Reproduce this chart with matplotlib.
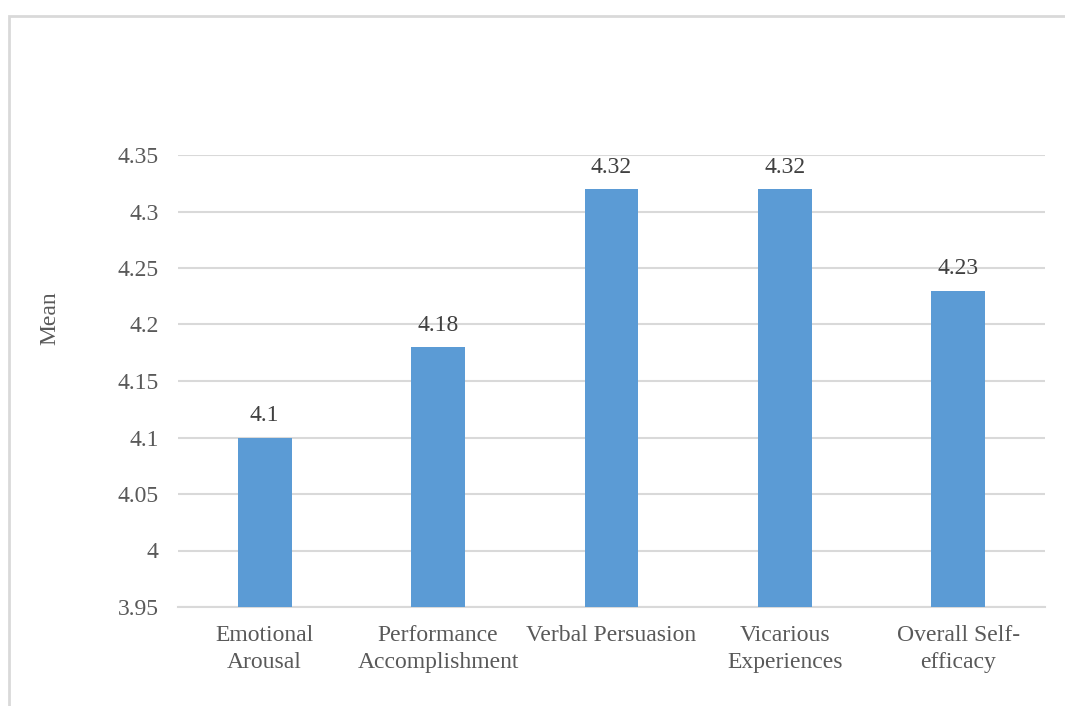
import matplotlib
matplotlib.use("Agg")
import matplotlib.pyplot as plt
from matplotlib.patches import Rectangle

categories = ["Emotional\nArousal", "Performance\nAccomplishment", "Verbal Persuasion",
              "Vicarious\nExperiences", "Overall Self-\nefficacy"]
values = [4.10, 4.18, 4.32, 4.32, 4.23]
value_labels = ["4.1", "4.18", "4.32", "4.32", "4.23"]
yticks = [3.95, 4.0, 4.05, 4.1, 4.15, 4.2, 4.25, 4.3, 4.35]
ytick_labels = ["3.95", "4", "4.05", "4.1", "4.15", "4.2", "4.25", "4.3", "4.35"]

plt.rcParams['font.family'] = ['Liberation Serif', 'DejaVu Serif']
W, H = 1065, 706
fig = plt.figure(figsize=(W / 100, H / 100), dpi=100)
fig.patch.set_facecolor("white")

# chart-area border
fig.patches.append(Rectangle((9 / W, -0.1), 1.2, 1 - 16 / H + 0.1, transform=fig.transFigure,
                             fill=False, edgecolor="#d9d9d9", linewidth=2))

left, right = 178 / W, 1045 / W
bottom, top = 1 - 607 / H, 1 - 155 / H
ax = fig.add_axes([left, bottom, right - left, top - bottom])

x = range(len(categories))
ax.bar(x, values, width=0.31, color="#5b9bd5", zorder=3)
ax.set_xlim(-0.5, len(categories) - 0.5)
ax.set_ylim(3.95, 4.35)
ax.set_yticks(yticks)
ax.set_yticklabels(ytick_labels)
ax.set_xticks(list(x))
ax.set_xticklabels(categories, linespacing=1.4)
ax.yaxis.grid(True, color="#d9d9d9", linewidth=1.5, zorder=0)
ax.tick_params(axis="both", length=0, labelsize=17, colors="#595959")
ax.tick_params(axis="y", pad=14)
ax.tick_params(axis="x", pad=13)
for s in ["top", "right", "left"]:
    ax.spines[s].set_visible(False)
ax.spines["bottom"].set_color("#d9d9d9")
ax.spines["bottom"].set_linewidth(1.5)

for xi, v, lab in zip(x, values, value_labels):
    ax.annotate(lab, (xi, v), xytext=(0, 8), textcoords="offset points",
                ha="center", va="bottom", fontsize=17, color="#404040")

fig.text(50 / W, 1 - 318 / H, "Mean", rotation=90, ha="center", va="center",
         fontsize=17, color="#595959")

fig.savefig("out.png", dpi=100, facecolor="white")
